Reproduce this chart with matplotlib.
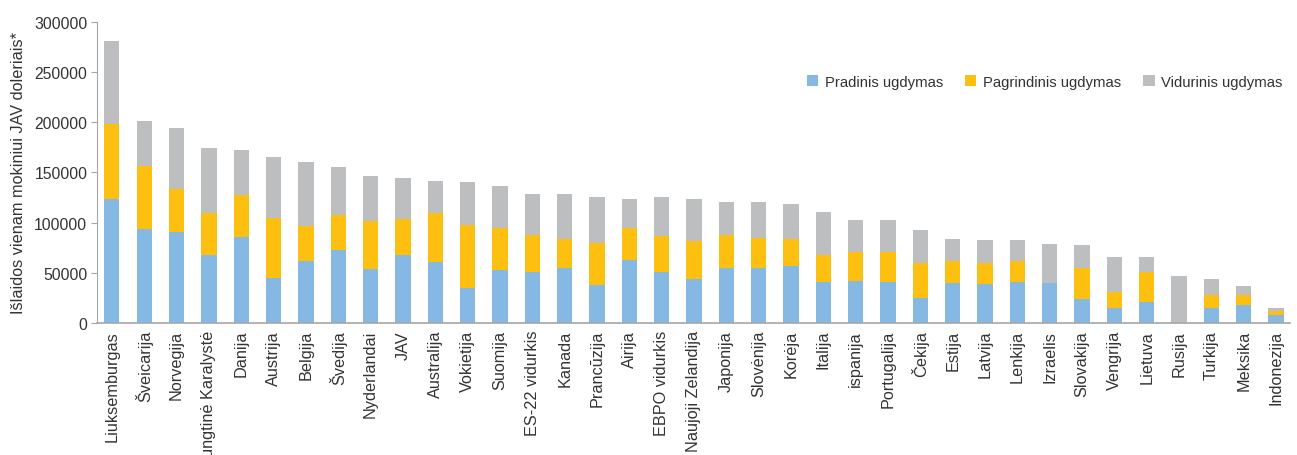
import matplotlib.pyplot as plt
import numpy as np

plt.rcParams['font.family'] = ['Liberation Sans', 'DejaVu Sans']

countries = ['Liuksemburgas', 'Šveicarija', 'Norvegija', 'Jungtinė Karalystė', 'Danija',
             'Austrija', 'Belgija', 'Švedija', 'Nyderlandai', 'JAV', 'Australija',
             'Vokietija', 'Suomija', 'ES-22 vidurkis', 'Kanada', 'Prancūzija', 'Airija',
             'EBPO vidurkis', 'Naujoji Zelandija', 'Japonija', 'Slovėnija', 'Korėja',
             'Italija', 'ispanija', 'Portugalija', 'Čekija', 'Estija', 'Latvija',
             'Lenkija', 'Izraelis', 'Slovakija', 'Vengrija', 'Lietuva', 'Rusija',
             'Turkija', 'Meksika', 'Indonezija']

# cumulative tops
blue_top = [124000, 94000, 91000, 68000, 86000, 45000, 62000, 73000, 54000, 68000, 61000,
            35000, 53000, 51000, 55000, 38000, 63000, 51000, 44000, 55000, 55000, 57000,
            41000, 42000, 41000, 25000, 40000, 39000, 41000, 40000, 24000, 15000, 21000,
            0, 15000, 18000, 8000]
yellow_top = [198000, 156000, 134000, 110000, 128000, 105000, 97000, 108000, 102000, 104000, 110000,
              98000, 95000, 88000, 84000, 80000, 95000, 87000, 82000, 88000, 85000, 84000,
              68000, 71000, 71000, 60000, 62000, 60000, 62000, 40000, 55000, 31000, 51000,
              0, 28000, 28000, 12000]
gray_top = [281000, 201500, 194500, 174500, 172500, 165500, 160500, 155500, 146500, 144500, 141500,
            140500, 136500, 128500, 128500, 125500, 123500, 125500, 123500, 120500, 120500, 118500,
            110500, 102500, 102500, 92500, 83500, 82500, 82500, 78500, 77500, 65500, 65500,
            46500, 43500, 36500, 15000]

pradinis = np.array(blue_top)
pagrindinis = np.where(np.array(yellow_top) == 0, 0, np.array(yellow_top) - pradinis)
vidurinis = np.array(gray_top) - np.maximum(np.array(yellow_top), pradinis)

text_color = '#333333'
axis_color = '#a6a6a6'

fig = plt.figure(figsize=(12.97, 4.56), dpi=100)
ax = fig.add_axes([0.0748, 0.2895, 0.9198, 0.6601])

x = np.arange(len(countries))
w = 0.47
ax.bar(x, pradinis, w, color='#85b8e3', label='Pradinis ugdymas')
ax.bar(x, pagrindinis, w, bottom=pradinis, color='#fdc010', label='Pagrindinis ugdymas')
ax.bar(x, vidurinis, w, bottom=pradinis + pagrindinis, color='#bdbec0',
       label='Vidurinis ugdymas')

ax.set_ylim(0, 300000)
ax.set_yticks(range(0, 300001, 50000))
ax.set_xlim(-0.46, len(countries) - 1 + 0.43)
ax.set_xticks(x)
ax.set_xticklabels(countries, rotation=90, fontsize=11.7, color=text_color)

ax.set_ylabel('Išlaidos vienam mokiniui JAV doleriais*', fontsize=11.7, color=text_color,
              labelpad=6)

for side in ['top', 'right']:
    ax.spines[side].set_visible(False)
ax.spines['left'].set_color(axis_color)
ax.spines['bottom'].set_color(axis_color)
ax.spines['bottom'].set_linewidth(1.2)

ax.tick_params(axis='x', length=0, pad=5)
ax.tick_params(axis='y', length=4, color=axis_color, labelsize=11.3, labelcolor=text_color, pad=3)

ax.legend(loc='upper right', bbox_to_anchor=(1.0, 0.85), ncol=3, frameon=False,
          fontsize=10.7, handlelength=0.75, handleheight=0.75, handletextpad=0.45,
          columnspacing=1.5, labelcolor=text_color, borderaxespad=0.1)

fig.savefig('out.png', dpi=100)
